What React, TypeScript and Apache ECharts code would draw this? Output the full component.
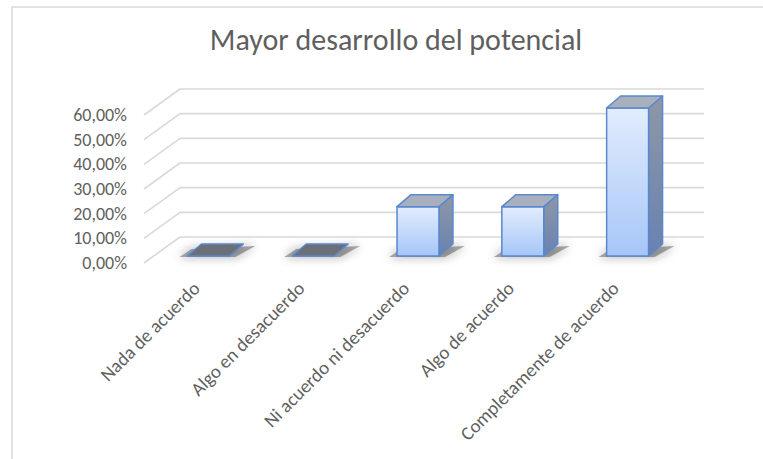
import React, { useEffect, useRef } from "react";
import * as echarts from "echarts";

const categories = [
  "Nada de acuerdo",
  "Algo en desacuerdo",
  "Ni acuerdo ni desacuerdo",
  "Algo de acuerdo",
  "Completamente de acuerdo",
];
const values = [0, 0, 20, 20, 60];
const yTicks = [0, 10, 20, 30, 40, 50, 60];
const titleText = "Mayor desarrollo del potencial";

const FONT = "Carlito, Calibri, Lato, sans-serif";
const TEXT = "#5f5f5f";
const GRIDC = "#d9d9d9";
// depth offsets relative to the bar plane
const BACK = [24, -19];
const FRONT = [-12, 7];
const BAR_D = [14, -12];

export default function App() {
  const ref = useRef<HTMLDivElement>(null);
  useEffect(() => {
    if (!ref.current) return;
    const chart = echarts.init(ref.current, undefined, { renderer: "svg" });
    const plane = { left: 156, top: 108, width: 524, height: 148 };
    const option: any = {
      animation: false,
      backgroundColor: "#ffffff",
      title: {
        text: titleText,
        left: 391,
        top: 19,
        textAlign: "center",
        textStyle: { fontFamily: FONT, fontSize: 30, fontWeight: "normal", color: TEXT },
      },
      graphic: [
        {
          type: "rect",
          shape: { x: 12, y: 7, width: 800, height: 500 },
          style: { fill: "none", stroke: GRIDC, lineWidth: 1.5 },
          silent: true,
        },
      ],
      grid: [
        { ...plane },
        {
          left: plane.left + FRONT[0],
          top: plane.top + FRONT[1],
          width: plane.width,
          height: plane.height,
        },
      ],
      xAxis: [
        { gridIndex: 0, type: "category", data: categories, show: false },
        {
          gridIndex: 1,
          type: "category",
          data: categories,
          axisLine: { show: false },
          axisTick: { show: false },
          axisLabel: {
            rotate: 45,
            interval: 0,
            margin: 22,
            color: TEXT,
            fontFamily: FONT,
            fontSize: 19,
          },
        },
      ],
      yAxis: [
        { gridIndex: 0, type: "value", min: 0, max: 60, interval: 10, show: false, splitLine: { show: false } },
        {
          gridIndex: 1,
          type: "value",
          min: 0,
          max: 60,
          interval: 10,
          axisLine: { show: false },
          axisTick: { show: false },
          splitLine: { show: false },
          axisLabel: {
            margin: 17,
            color: TEXT,
            fontFamily: FONT,
            fontSize: 18,
            formatter: (v: number) => v.toFixed(2).replace(".", ",") + "%",
          },
        },
      ],
      series: [
        {
          type: "custom",
          xAxisIndex: 0,
          yAxisIndex: 0,
          silent: true,
          clip: false,
          z: 1,
          data: yTicks.map((v) => [0, v]),
          encode: { x: 0, y: 1 },
          renderItem: (params: any, api: any) => {
            const v = api.value(1);
            const band = api.size([1, 0])[0];
            const p = api.coord([0, v]);
            const left = p[0] - band / 2;
            const right = api.coord([categories.length - 1, v])[0] + band / 2;
            const style = { stroke: GRIDC, lineWidth: 1.6 };
            return {
              type: "group",
              children: [
                {
                  type: "line",
                  shape: { x1: left + FRONT[0], y1: p[1] + FRONT[1], x2: left + BACK[0], y2: p[1] + BACK[1] },
                  style,
                },
                {
                  type: "line",
                  shape: { x1: left + BACK[0], y1: p[1] + BACK[1], x2: right + BACK[0], y2: p[1] + BACK[1] },
                  style,
                },
              ],
            };
          },
        },
        {
          type: "custom",
          xAxisIndex: 0,
          yAxisIndex: 0,
          clip: false,
          z: 3,
          data: values.map((v, i) => [i, v]),
          encode: { x: 0, y: 1 },
          renderItem: (params: any, api: any) => {
            const i = api.value(0);
            const v = api.value(1);
            const band = api.size([1, 0])[0];
            const w = band * 0.4;
            const c = api.coord([i, 0]);
            const t = api.coord([i, v]);
            const xl = c[0] - w / 2;
            const xr = c[0] + w / 2;
            const y0 = c[1];
            const y1 = t[1];
            const dx = BAR_D[0];
            const dy = BAR_D[1];
            const stroke = "#5a88cf";
            const children: any[] = [];
            // soft shadow at the base
            children.push({
              type: "polygon",
              shape: {
                points: [
                  [xl - 8, y0 + 1],
                  [xl + 4, y0 - 7],
                  [xr + dx + 12, y0 + dy + 2],
                  [xr + 6, y0 + 1],
                ],
              },
              style: {
                fill: "rgba(70,70,70,0.45)",
                shadowBlur: 10,
                shadowColor: "rgba(40,40,40,0.9)",
              },
            });
            if (v > 0) {
              children.push({
                type: "polygon",
                shape: { points: [[xr, y1], [xr + dx, y1 + dy], [xr + dx, y0 + dy], [xr, y0]] },
                style: {
                  fill: new echarts.graphic.LinearGradient(0, 0, 0, 1, [
                    { offset: 0, color: "#8f97a6" },
                    { offset: 1, color: "#6882b0" },
                  ]),
                  stroke,
                  lineWidth: 1.5,
                  lineJoin: "round",
                },
              });
              children.push({
                type: "rect",
                shape: { x: xl, y: y1, width: w, height: y0 - y1 },
                style: {
                  fill: new echarts.graphic.LinearGradient(0, 0, 0, 1, [
                    { offset: 0, color: "#e2ecfd" },
                    { offset: 1, color: "#a6c6f8" },
                  ]),
                  stroke,
                  lineWidth: 1.5,
                },
              });
            }
            children.push({
              type: "polygon",
              shape: { points: [[xl, y1], [xl + dx, y1 + dy], [xr + dx, y1 + dy], [xr, y1]] },
              style: {
                fill: v > 0 ? "#a9b0bd" : "#6c6f76",
                stroke,
                lineWidth: 1.5,
                lineJoin: "round",
              },
            });
            return { type: "group", children };
          },
        },
      ],
    };
    chart.setOption(option);
    return () => chart.dispose();
  }, []);
  return (
    <div
      ref={ref}
      style={{ position: "fixed", left: 0, top: 0, width: 763, height: 459, background: "#fff" }}
    />
  );
}
